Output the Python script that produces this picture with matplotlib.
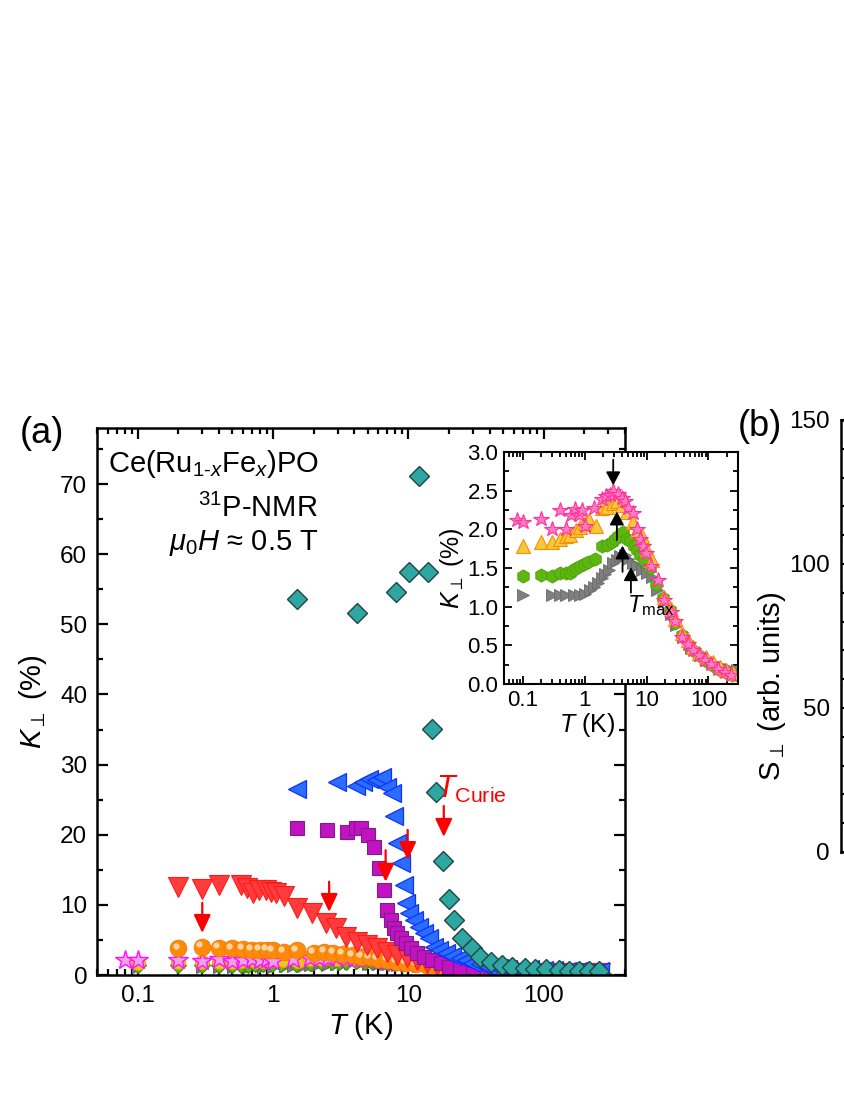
import matplotlib
matplotlib.use('Agg')
import matplotlib.pyplot as plt
from matplotlib.ticker import MultipleLocator, FuncFormatter, NullFormatter, FixedLocator, LogLocator
from matplotlib.transforms import ScaledTranslation

plt.rcParams['font.family'] = ['Liberation Sans', 'DejaVu Sans']
plt.rcParams['mathtext.fontset'] = 'custom'
plt.rcParams['mathtext.rm'] = 'Liberation Sans'
plt.rcParams['mathtext.it'] = 'Liberation Sans:italic'
plt.rcParams['mathtext.bf'] = 'Liberation Sans:bold'
plt.rcParams['mathtext.fallback'] = 'stixsans'

# ---- data: T (K) and K_perp (%) ----
teal_T = [1.5, 4.2, 8.1, 10.1, 12.0, 13.9, 14.9, 16.0, 18.0, 19.9, 21.7, 24.8, 29.4, 34, 41, 49, 58,
          73, 87, 105, 129, 153, 182, 215, 255]
teal_K = [53.6, 51.6, 54.6, 57.5, 71.2, 57.5, 35.1, 26.1, 16.3, 10.8, 7.8, 5.3, 3.8, 2.6, 1.9, 1.4, 1.2,
          1.0, 0.9, 0.8, 0.7, 0.6, 0.6, 0.5, 0.5]

blue_T = [1.5, 2.98, 4.1, 4.6, 5.1, 5.8, 6.4, 7.0, 7.6, 7.9, 8.3, 8.8, 9.3, 9.6, 10.1, 11, 12, 13, 14.2,
          15.5, 17, 19, 21, 24, 26.5, 29.5, 34, 39, 47, 55, 65, 80, 100, 120, 150, 180, 220, 260]
blue_K = [26.5, 27.5, 27.0, 27.5, 28.0, 27.8, 28.2, 26.8, 26.0, 22.7, 18.8, 16.0, 12.8, 10.3, 8.8, 7.8,
          6.9, 6.0, 5.3, 4.0, 3.6, 3.1, 2.7, 2.4, 2.1, 1.7, 1.5, 1.2, 1.0, 0.9, 0.8, 0.8, 0.7, 0.7, 0.6,
          0.6, 0.6, 0.5]

mag_T = [1.5, 2.52, 3.5, 4.1, 4.5, 5.0, 5.6, 6.1, 6.6, 7.0, 7.4, 7.9, 8.3, 8.8, 9.6, 10.5, 11.6, 13, 15,
         17.5, 20, 24, 30, 40, 55, 75, 100, 140, 200, 260]
mag_K = [21.0, 20.7, 20.4, 21.0, 21.0, 20.0, 18.3, 15.3, 12.1, 9.3, 7.8, 6.7, 6.0, 5.3, 4.6, 3.9, 3.1,
         2.6, 2.1, 1.7, 1.2, 1.0, 0.9, 0.8, 0.7, 0.6, 0.6, 0.5, 0.5, 0.5]

red_T = [0.2, 0.3, 0.4, 0.58, 0.64, 0.71, 0.79, 0.89, 0.97, 1.06, 1.21, 1.51, 1.95, 2.47, 2.93, 3.47,
         4.2, 4.95, 5.9, 7.0, 8.3, 9.8, 11.6, 13.7, 16.3, 19.5, 23, 28, 34, 42, 55, 75, 100, 140, 200, 260]
red_K = [12.6, 12.3, 12.8, 12.8, 12.4, 11.7, 12.1, 12.1, 11.9, 11.7, 11.3, 9.6, 8.8, 7.4, 6.7, 5.4, 4.7,
         4.3, 3.8, 3.3, 2.9, 2.6, 2.1, 1.7, 1.4, 1.1, 0.9, 0.7, 0.6, 0.5, 0.4, 0.35, 0.3, 0.3, 0.3, 0.3]

orange_T = [0.2, 0.3, 0.4, 0.5, 0.6, 0.7, 0.8, 0.9, 1.0, 1.2, 1.5, 2.0, 2.4, 2.8, 3.3, 3.9, 4.5, 5.2,
            6.0, 7.0, 8.2, 9.6, 11.5, 14, 17, 21, 26, 33, 42, 55, 75, 100, 140, 200, 260]
orange_K = [3.8, 4.0, 3.9, 3.8, 3.7, 3.6, 3.6, 3.6, 3.5, 3.3, 3.5, 3.2, 3.3, 3.1, 3.0, 2.8, 2.6, 2.5,
            2.3, 2.1, 1.9, 1.7, 1.5, 1.3, 1.1, 0.9, 0.75, 0.6, 0.5, 0.4, 0.35, 0.3, 0.3, 0.25, 0.25]

star_T = [0.08, 0.1, 0.2, 0.3, 0.4, 0.5, 0.6, 0.7, 0.8, 0.9, 1.0, 1.4, 1.88, 2.2, 2.56, 2.9, 3.5, 3.95,
          4.47, 5.05, 5.94, 6.9, 7.8, 8.8, 9.7, 11.7, 15.4, 19.0, 24.4, 28.6, 38.1, 46.9, 56.5, 70.5,
          87.1, 112, 143, 183, 235]
star_K = [2.12, 2.10, 2.13, 2.01, 2.25, 2.01, 2.19, 2.26, 2.19, 2.25, 2.04, 2.27, 2.39, 2.43, 2.45, 2.50,
          2.46, 2.40, 2.36, 2.27, 2.21, 2.01, 1.88, 1.78, 1.69, 1.52, 1.35, 1.09, 0.93, 0.81, 0.61, 0.52,
          0.44, 0.38, 0.31, 0.26, 0.20, 0.16, 0.12]

yel_T = [0.1, 0.2, 0.3, 0.4, 0.5, 0.58, 0.74, 0.84, 1.0, 1.19, 1.52, 1.88, 2.32, 2.9, 3.28, 3.95, 4.76,
         5.94, 7.0, 8.3, 10.0, 12.1, 19.0, 24.4, 29.3, 38.1, 46.9, 56.5, 70.5, 92.5, 118, 151, 193, 248]
yel_K = [1.78, 1.83, 1.83, 1.87, 1.91, 1.93, 1.99, 2.03, 2.08, 2.12, 2.04, 2.27, 2.29, 2.34, 2.36, 2.32,
         2.22, 2.10, 1.99, 1.91, 1.73, 1.60, 1.13, 0.97, 0.84, 0.66, 0.57, 0.48, 0.40, 0.35, 0.28, 0.22,
         0.18, 0.14]

green_T = [0.1, 0.2, 0.3, 0.4, 0.5, 0.58, 0.65, 0.74, 0.84, 0.99, 1.14, 1.47, 1.88, 2.26, 2.73, 3.08,
           3.49, 4.1, 4.76, 5.39, 6.23, 7.05, 7.8, 9.05, 11.3, 14.1, 18.5, 23.7, 28.6, 38.1, 48.5, 58,
           72, 90, 115, 145, 185, 240]
green_K = [1.40, 1.41, 1.40, 1.44, 1.43, 1.44, 1.47, 1.50, 1.52, 1.55, 1.58, 1.62, 1.78, 1.80, 1.84,
           1.88, 1.91, 1.97, 1.88, 1.85, 1.79, 1.73, 1.67, 1.60, 1.50, 1.29, 1.11, 0.96, 0.79, 0.63,
           0.50, 0.43, 0.36, 0.30, 0.25, 0.20, 0.16, 0.12]

gray_T = [0.1, 0.3, 0.4, 0.51, 0.67, 0.84, 1.0, 1.22, 1.41, 1.66, 1.88, 2.13, 2.49, 2.9, 3.28, 3.72,
          4.47, 5.05, 5.94, 7.05, 8.3, 10.0, 12.1, 14.5, 19.0, 24.4, 30.4, 38.7, 53.0, 72.5, 92.5, 134,
          176, 219, 289]
gray_K = [1.15, 1.15, 1.15, 1.15, 1.15, 1.15, 1.17, 1.22, 1.26, 1.30, 1.37, 1.42, 1.47, 1.56, 1.60,
          1.65, 1.67, 1.62, 1.56, 1.53, 1.47, 1.43, 1.39, 1.22, 1.06, 0.91, 0.76, 0.61, 0.46, 0.37,
          0.31, 0.26, 0.22, 0.20, 0.18]

# Curie temperature arrows (main panel) and T_max arrows (inset)
curie_T = [0.3, 2.6, 6.8, 9.9, 18.3]
curie_from = [10.3, 13.3, 17.8, 20.7, 24.1]
curie_to = [6.0, 9.0, 13.3, 16.4, 19.7]

tmax_T = [2.9, 3.32, 4.1, 5.6]
tmax_from = [2.90, 1.86, 1.45, 1.18]
tmax_to = [2.57, 2.23, 1.79, 1.51]

decades = [0.1, 1, 10, 100]

W, H = 845, 1093
fig = plt.figure(figsize=(W / 100, H / 100), dpi=100)

ax = fig.add_axes([97 / W, 1 - 975 / H, 528 / W, 547 / H])
ins = fig.add_axes([504 / W, 1 - 684 / H, 234 / W, 232 / H])
axb = fig.add_axes([841 / W, 1 - 852 / H, 0.5, 432 / H])

fmt_g = FuncFormatter(lambda v, p: '%g' % v)

# ---------- main panel ----------
ax.plot(gray_T, gray_K, '>', ms=9, mfc='#7f7f7f', mec='#666666', mew=0.8, ls='none')
ax.plot(green_T, green_K, 'D', ms=8, mfc='#5cb80f', mec='#3f8a0a', mew=0.8, ls='none')
ax.plot(yel_T, yel_K, 'o', ms=10, mfc='#e8c820', mec='#ff9a00', mew=0.8, ls='none')
ax.plot(star_T, star_K, '*', ms=15, mfc='#f0a0e6', mec='#ff10ff', mew=1.0, ls='none')
ax.plot(orange_T, orange_K, 'o', ms=12, mfc='#ff8a0a', mec='#f07a00', mew=0.6, ls='none')
shine = ax.transData + ScaledTranslation(-2.0 / 72, 2.0 / 72, fig.dpi_scale_trans)
ax.plot(orange_T, orange_K, 'o', ms=4.5, mfc='#ffe2c0', mec='none', alpha=0.85, ls='none',
        transform=shine)
ax.plot(red_T, red_K, 'v', ms=14, mfc='#ff3c3c', mec='#ff1a1a', mew=0.8, ls='none')
ax.plot(mag_T, mag_K, 's', ms=10.5, mfc='#c212c2', mec='#7a1f88', mew=0.8, ls='none')
ax.plot(blue_T, blue_K, '<', ms=13, mfc='#2a6eff', mec='#1030ff', mew=0.9, ls='none')
ax.plot(teal_T, teal_K, 'D', ms=10, mfc='#2ea6a1', mec='#1f4745', mew=1.0, ls='none')

for t, k0, k1 in zip(curie_T, curie_from, curie_to):
    ax.annotate('', xy=(t, k1), xytext=(t, k0),
                arrowprops=dict(arrowstyle='-|>,head_length=0.55,head_width=0.26',
                                color='#ff0000', lw=1.6, mutation_scale=20,
                                shrinkA=0, shrinkB=0))
ax.text(16.1, 25.2, r'$T_{\mathrm{Curie}}$', color='#ff0000', fontsize=22,
        ha='left', va='baseline')

ax.set_xscale('log')
ax.set_xlim(0.05, 400)
ax.set_ylim(0, 78)
ax.xaxis.set_major_locator(FixedLocator(decades))
ax.xaxis.set_minor_locator(LogLocator(base=10, subs=range(2, 10), numticks=20))
ax.yaxis.set_major_locator(MultipleLocator(10))
ax.yaxis.set_minor_locator(MultipleLocator(5))
ax.xaxis.set_major_formatter(fmt_g)
ax.xaxis.set_minor_formatter(NullFormatter())
ax.tick_params(which='both', direction='in', top=True, right=True, width=1.6, labelsize=17.5, pad=7)
ax.tick_params(which='major', length=8)
ax.tick_params(which='minor', length=4.5)
for s in ax.spines.values():
    s.set_linewidth(1.8)
ax.set_xlabel('$T$ (K)', fontsize=21, labelpad=2)
ax.set_ylabel(r'$K_{\perp}$ (%)', fontsize=21, labelpad=8)

ax.text(0.021, 0.92, r'Ce(Ru$_{1\text{-}x}$Fe$_{x}$)PO', transform=ax.transAxes,
        fontsize=21, ha='left', va='baseline')
ax.text(0.419, 0.838, r'$^{31}$P-NMR', transform=ax.transAxes,
        fontsize=21, ha='right', va='baseline')
ax.text(0.419, 0.777, '$\\mu_{0}H$ \u2248 0.5 T', transform=ax.transAxes,
        fontsize=21, ha='right', va='baseline')

# ---------- inset ----------
ins.plot(gray_T, gray_K, '>', ms=9, mfc='#7f7f7f', mec='#6a6a6a', mew=0.6, ls='none')
ins.plot(green_T, green_K, 'h', ms=9.5, mfc='#5cb80f', mec='#4e9e0c', mew=0.6, ls='none')
ins.plot(yel_T, yel_K, '^', ms=10, mfc='#f2c83c', mec='#ff8c00', mew=0.8, ls='none')
ins.plot(star_T, star_K, '*', ms=11.5, mfc='#ff7cc4', mec='#ff2f9a', mew=0.8, ls='none')

for t, k0, k1 in zip(tmax_T, tmax_from, tmax_to):
    ins.annotate('', xy=(t, k1), xytext=(t, k0),
                 arrowprops=dict(arrowstyle='-|>,head_length=0.5,head_width=0.27',
                                 color='black', lw=1.3, mutation_scale=16,
                                 shrinkA=0, shrinkB=0))
ins.text(4.8, 0.93, r'$T_{\mathrm{max}}$', fontsize=17, ha='left', va='baseline')

ins.set_xscale('log')
ins.set_xlim(0.05, 300)
ins.set_ylim(0, 3)
ins.xaxis.set_major_locator(FixedLocator(decades))
ins.xaxis.set_minor_locator(LogLocator(base=10, subs=range(2, 10), numticks=20))
ins.yaxis.set_major_locator(MultipleLocator(0.5))
ins.yaxis.set_minor_locator(MultipleLocator(0.25))
ins.yaxis.set_major_formatter(FuncFormatter(lambda v, p: '%.1f' % v))
ins.xaxis.set_major_formatter(fmt_g)
ins.xaxis.set_minor_formatter(NullFormatter())
ins.tick_params(which='both', direction='in', top=True, right=True, width=1.3, labelsize=16, pad=4)
ins.tick_params(which='major', length=6)
ins.tick_params(which='minor', length=3.5)
for s in ins.spines.values():
    s.set_linewidth(1.5)
ins.set_xlabel('$T$ (K)', fontsize=18)
ins.xaxis.set_label_coords(0.355, -0.115)
ins.set_ylabel(r'$K_{\perp}$ (%)', fontsize=18, labelpad=1)

# ---------- panel (b), cut at the right edge ----------
axb.set_xlim(0, 1)
axb.set_ylim(0, 150)
axb.set_xticks([])
axb.yaxis.set_major_locator(MultipleLocator(50))
axb.yaxis.set_minor_locator(MultipleLocator(10))
axb.tick_params(which='both', direction='in', width=1.5, labelsize=17.5, pad=8)
axb.tick_params(which='major', length=7)
axb.tick_params(which='minor', length=7)
for s in axb.spines.values():
    s.set_linewidth(1.8)

fig.text(20 / W, 1 - 433 / H, '(a)', fontsize=26, ha='left', va='center')
fig.text(738 / W, 1 - 427 / H, '(b)', fontsize=26, ha='left', va='center')
fig.text(772 / W, 1 - 686 / H, r'S$_{\perp}$ (arb. units)', fontsize=21, rotation=90,
         ha='center', va='center')

fig.savefig('out.png', dpi=100)
